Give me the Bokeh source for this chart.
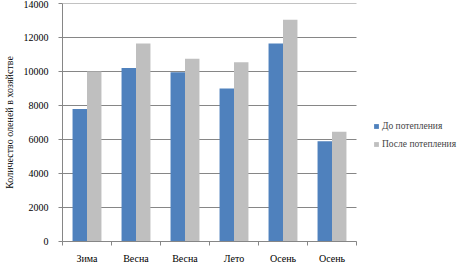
from bokeh.plotting import figure
from bokeh.models import ColumnDataSource, Range1d, FixedTicker, Legend, LegendItem
from bokeh.embed import file_html
from bokeh.resources import INLINE

categories = ["Зима", "Весна", "Весна", "Лето", "Осень", "Осень"]
before = [7800, 10200, 9950, 9000, 11650, 5900]
after = [10000, 11650, 10750, 10550, 13050, 6450]
series_names = ["До потепления", "После потепления"]
y_ticks = [0, 2000, 4000, 6000, 8000, 10000, 12000, 14000]

FONT = "Liberation Serif"
AX = "#868686"

n = len(categories)
# frame spans to the right edge so the legend (drawn inside the frame) is visible;
# categories occupy the left 294 px of the 410 px frame
x_end = n * 410 / 294

p = figure(width=472, height=266, output_backend="svg", toolbar_location=None,
           x_range=Range1d(0, x_end), y_range=Range1d(0, 14000),
           min_border_left=62, min_border_right=0, min_border_top=3, min_border_bottom=0)
p.outline_line_color = None
p.background_fill_color = "white"
p.border_fill_color = "white"

p.segment(x0=[0] * len(y_ticks), x1=[n] * len(y_ticks), y0=y_ticks, y1=y_ticks,
          line_color=AX, line_width=1)

bw = 0.295
xs = [i + 0.5 for i in range(n)]
src = ColumnDataSource(dict(xb=[x - bw / 2 for x in xs], xa=[x + bw / 2 for x in xs],
                            before=before, after=after))
r1 = p.vbar(x="xb", top="before", width=bw, bottom=0, source=src,
            fill_color="#4F81BD", line_color=None)
r2 = p.vbar(x="xa", top="after", width=bw, bottom=0, source=src,
            fill_color="#BFBFBF", line_color=None)

p.xaxis.ticker = FixedTicker(ticks=xs, minor_ticks=list(range(n + 1)))
p.xaxis.bounds = (0, n)
p.xaxis.major_label_overrides = {x: c for x, c in zip(xs, categories)}
p.xaxis.major_tick_out = 0
p.xaxis.major_tick_in = 0
p.xaxis.minor_tick_out = 4
p.xaxis.minor_tick_in = 0
p.xaxis.minor_tick_line_color = AX
p.xaxis.axis_line_color = AX
p.xaxis.major_label_text_font = FONT
p.xaxis.major_label_text_font_size = "10px"
p.xaxis.major_label_text_color = "black"
p.xaxis.major_label_standoff = 7
p.xaxis.axis_label_standoff = 0
p.xgrid.grid_line_color = None

p.yaxis.ticker = FixedTicker(ticks=y_ticks)
p.yaxis.minor_tick_line_color = None
p.yaxis.major_tick_out = 4
p.yaxis.major_tick_in = 0
p.yaxis.major_tick_line_color = AX
p.yaxis.axis_line_color = AX
p.yaxis.major_label_text_font = FONT
p.yaxis.major_label_text_font_size = "10px"
p.yaxis.major_label_text_color = "black"
p.yaxis.major_label_standoff = 10
p.yaxis.axis_label = "Количество оленей в хозяйстве"
p.yaxis.axis_label_text_font = FONT
p.yaxis.axis_label_text_font_size = "10px"
p.yaxis.axis_label_text_font_style = "normal"
p.yaxis.axis_label_text_color = "black"
p.yaxis.axis_label_standoff = 6
p.ygrid.grid_line_color = None

legend = Legend(items=[LegendItem(label=series_names[0], renderers=[r1]),
                       LegendItem(label=series_names[1], renderers=[r2])],
                location=(311, 90), padding=0, margin=0, spacing=3,
                label_height=15, glyph_height=6, glyph_width=6, label_standoff=3,
                label_text_font=FONT, label_text_font_size="9.5px",
                border_line_color=None, background_fill_alpha=0)
p.add_layout(legend)

open("out.html", "w").write(file_html(p, INLINE))
